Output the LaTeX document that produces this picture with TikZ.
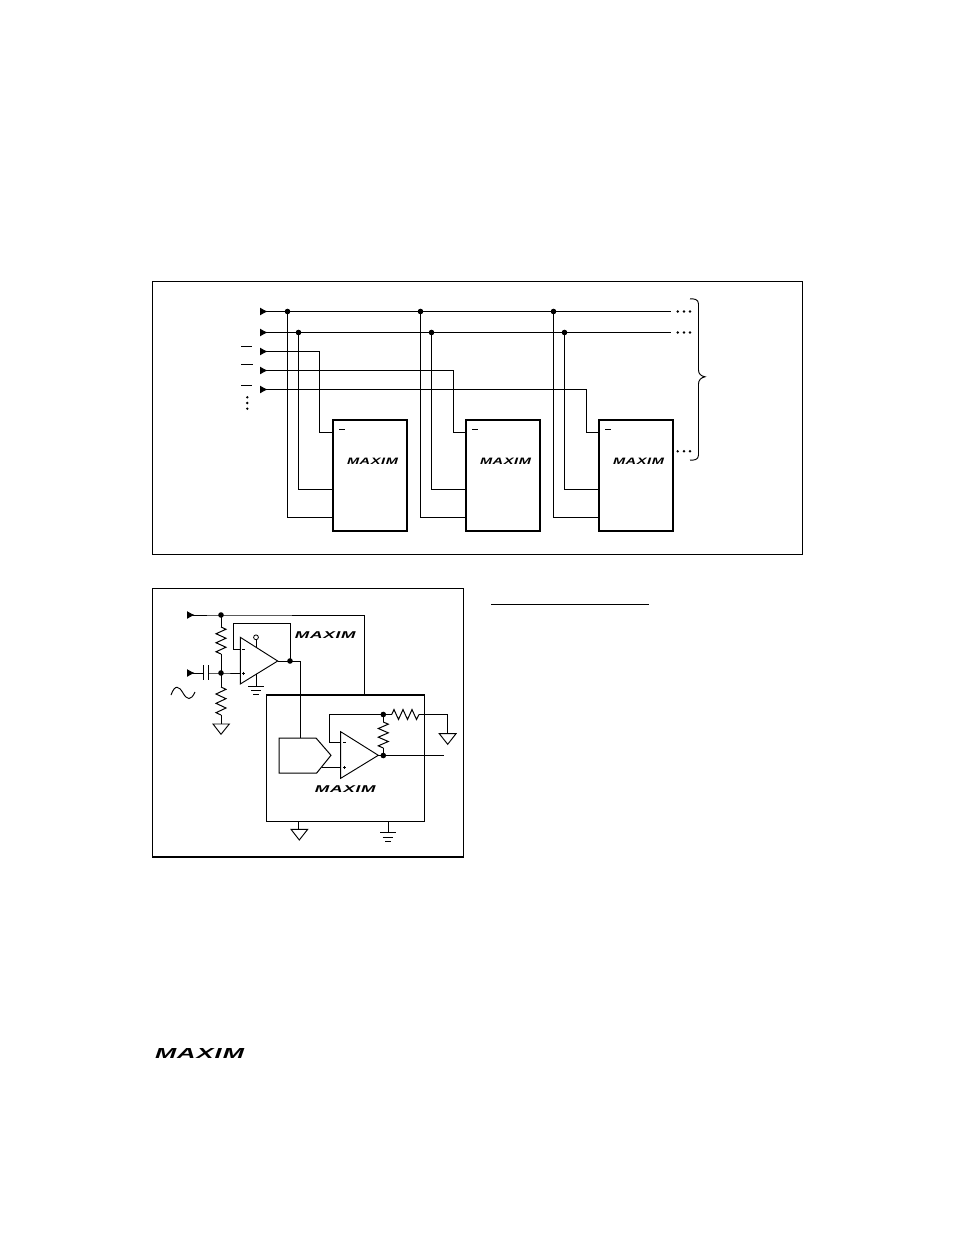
\documentclass[tikz,border=0pt]{standalone}
\usepackage{fontspec}
\setmainfont{Liberation Sans}
\usetikzlibrary{arrows.meta}
\newcommand{\mxlogo}[6]{\node[logotext] (#1) at (#2,#3) {\resizebox{\dimexpr#4pt*3/4\relax}{\dimexpr#5pt*3/4\relax}{\bfseries\itshape\addfontfeature{LetterSpace=#6}MAXIM}};}
\newcommand{\zzv}[4]{\draw[wire,shift={(#1,#2)},yscale=#3/27,xscale=#4] (0,0) -- (5,2.25) -- (-5,6.75) -- (5,11.25) -- (-5,15.75) -- (5,20.25) -- (-5,24.75) -- (0,27);}
\tikzset{
  wire/.style={line width=0.75pt,line join=miter},
  frame/.style={line width=0.75pt},
  chipbox/.style={draw,line width=1.5pt,minimum width=55.5pt,minimum height=83.25pt,inner sep=0pt},
  gate/.style={line width=0.7pt,line join=miter},
  junction/.style={circle,fill=black,inner sep=0pt,minimum size=4.2pt},
  smalldot/.style={circle,fill=black,inner sep=0pt,minimum size=2pt},
  feed/.style={wire,{Latex[reversed,length=5.8pt,width=6pt]}-},
  logotext/.style={inner sep=0pt,outer sep=0pt},
}
\begin{document}
\begin{tikzpicture}[x=0.75pt,y=-0.75pt]
\fill[white] (0,0) rectangle (954,1235);
\useasboundingbox (0,0) rectangle (954,1235);
% frames
\draw[frame] (152.5,281.5) rectangle (802,554);
\draw[frame] (152.5,588.5) rectangle (463,857);
\draw[line width=1.4pt] (152,857) -- (463.5,857);
\draw[line width=0.75pt] (491,604.5) -- (649,604.5);
% chips, top
\foreach \n/\cx in {A/370,B/503,C/636}{\node[chipbox] (chip\n) at (\cx,475.5) {};}
\foreach \n/\dx in {A/0,B/133,C/266}{
  \coordinate (bin1\n) at (287.5+\dx,311.5);
  \coordinate (bin2\n) at (298.5+\dx,332.5);
  \coordinate (cA\n) at (287.5+\dx,517.5);
  \coordinate (cB\n) at (298.5+\dx,489.5);
  \coordinate (eA\n) at (333+\dx,517.5);
  \coordinate (eB\n) at (333+\dx,489.5);
  \coordinate (eC\n) at (333+\dx,432.5);
  \draw[wire] (bin1\n) -- (cA\n) -- (eA\n);
  \draw[wire] (bin2\n) -- (cB\n) -- (eB\n);
  \node[junction] at (bin1\n) {};
  \node[junction] at (bin2\n) {};
  \draw[line width=0.75pt] (339+\dx,429.5) -- (345+\dx,429.5);
}
\coordinate (s1) at (260,311.5); \coordinate (s1e) at (671,311.5);
\coordinate (s2) at (260,332.5); \coordinate (s2e) at (671,332.5);
\coordinate (s3) at (260,351.5); \coordinate (t3) at (319.5,351.5); \coordinate (u3) at (319.5,432.5);
\coordinate (s4) at (260,370.5); \coordinate (t4) at (453.5,370.5); \coordinate (u4) at (453.5,432.5);
\coordinate (s5) at (260,389.5); \coordinate (t5) at (586.5,389.5); \coordinate (u5) at (586.5,432.5);
\draw[feed] (s1) -- (s1e);
\draw[feed] (s2) -- (s2e);
\draw[feed] (s3) -- (t3) -- (u3) -- (eCA);
\draw[feed] (s4) -- (t4) -- (u4) -- (eCB);
\draw[feed] (s5) -- (t5) -- (u5) -- (eCC);
% overbars and dots left
\draw[line width=0.75pt] (241,346.5) -- (252,346.5) (241,364.5) -- (253,364.5) (241,385.5) -- (252,385.5);
\foreach \y in {397.3,403,408.7}{\node[smalldot] at (247.3,\y) {};}
\foreach \y in {311.5,332.5,451.3}{\foreach \x in {677.7,684,690}{\node[smalldot] at (\x,\y) {};}}
% brace
\draw[line width=0.7pt] (690,298.8) .. controls (694,298.8) and (698.5,299) .. (698.5,304)
  -- (698.5,370) .. controls (698.5,374) and (701,376) .. (705,376.8)
  .. controls (701,377.6) and (698.5,380) .. (698.5,384)
  -- (698.5,455) .. controls (698.5,460) and (694,460.2) .. (690,460.2);
% logos
\mxlogo{logoA}{372.5}{461}{51}{6.4}{4}
\mxlogo{logoB}{505.5}{461}{51}{6.4}{4}
\mxlogo{logoC}{638.5}{461}{51}{6.4}{4}
\mxlogo{logoD}{325.3}{635}{60.7}{6.8}{4}
\mxlogo{logoE}{345.3}{789.3}{60.7}{6.8}{4}
\mxlogo{logoF}{199.5}{1053}{89}{10}{4}
% lower circuit: input side
\coordinate (v1) at (187,615); \coordinate (jt) at (221,615); \coordinate (vc) at (364,615); \coordinate (vd) at (364,695);
\draw[feed] (v1) -- (jt) -- (vc) -- (vd);
\node[junction] at (jt) {};
\coordinate (v2) at (187,673); \coordinate (capL) at (203.3,673); \coordinate (capR) at (208.3,673);
\coordinate (jm) at (221,673); \coordinate (inP) at (240.3,673);
\draw[feed] (v2) -- (capL);
\draw[wire] (203.5,665) -- (203.5,680);
\draw[wire] (208.5,665) -- (208.5,680);
\draw[wire] (capR) -- (jm) -- (inP);
\node[junction] at (jm) {};
\coordinate (r1a) at (221,627); \coordinate (r1b) at (221,654);
\draw[wire] (jt) -- (r1a); \zzv{221}{627}{27}{1} \draw[wire] (r1b) -- (jm);
\coordinate (r2a) at (221,687); \coordinate (r2b) at (221,715); \coordinate (g1) at (221,724);
\draw[wire] (jm) -- (r2a); \zzv{221}{687}{28}{1} \draw[wire] (r2b) -- (g1);
\draw[gate] (213,724) -- (229.3,724) -- (221,734.3) -- cycle;
\draw[line width=0.7pt] (171,695) .. controls (175,684) and (179,686) .. (183,693) .. controls (187,700) and (191,701) .. (195,692);
% op amp 1
\draw[gate] (240.3,637.3) -- (277.7,661) -- (240.3,684) -- cycle;
\coordinate (fbA) at (240.3,649.5); \coordinate (fbB) at (233.5,649.5); \coordinate (fbC) at (233.5,623.5); \coordinate (fbD) at (290,623.5); \coordinate (o1) at (290,661);
\coordinate (o1t) at (277.7,661); \coordinate (o1r) at (300,661); \coordinate (dacin) at (300,738);
\draw[wire] (fbA) -- (fbB) -- (fbC) -- (fbD) -- (o1);
\draw[wire] (o1t) -- (o1r) -- (dacin);
\node[junction] at (o1) {};
\draw[line width=0.5pt] (242,649.3) -- (245,649.3) (242,673) -- (245,673) (243.5,671.5) -- (243.5,674.5);
\node[circle,draw,line width=0.6pt,inner sep=0pt,minimum size=3.6pt] (vcc) at (256,637.3) {};
\coordinate (vccb) at (256,647);
\draw[line width=0.6pt] (vcc) -- (vccb);
\coordinate (gb) at (256,674.3); \coordinate (gc) at (256,686);
\draw[line width=0.6pt] (gb) -- (gc);
\draw[line width=0.7pt] (248,686) -- (264,686) (251,690) -- (261,690) (253,694) -- (259,694);
% big box
\draw[line width=0.75pt] (266.5,695) rectangle (424.5,821.5);
\draw[line width=1.5pt] (266,695) -- (425,695);
% DAC
\draw[gate,line width=0.75pt] (279,738) -- (316,738) -- (331,755.3) -- (316.7,773) -- (279,773) -- cycle;
% op amp 2
\draw[gate] (340.7,731.7) -- (378.3,755.3) -- (340.7,778.3) -- cycle;
\coordinate (dacout) at (322,767.5); \coordinate (in2p) at (340.7,767.5);
\draw[wire] (dacout) -- (in2p);
\coordinate (i2a) at (340.7,742.5); \coordinate (i2b) at (329.5,742.5); \coordinate (i2c) at (329.5,714.5); \coordinate (j2a) at (383.3,714.5);
\coordinate (o2t) at (378.3,755.5); \coordinate (j2b) at (383.3,755.5); \coordinate (o2e) at (444.3,755.5);
\draw[wire] (i2a) -- (i2b) -- (i2c) -- (j2a);
\draw[wire] (o2t) -- (o2e);
\node[junction] at (j2a) {};
\node[junction] at (j2b) {};
\draw[line width=0.5pt] (343,742.3) -- (346,742.3) (343,767.3) -- (346,767.3) (344.5,765.8) -- (344.5,768.8);
\coordinate (r3a) at (383.3,722); \coordinate (r3b) at (383.3,748);
\draw[wire] (j2a) -- (r3a); \zzv{383.3}{722}{26}{1} \draw[wire] (r3b) -- (j2b);
\coordinate (r4a) at (391.7,714.5); \coordinate (r4b) at (419,714.5); \coordinate (r4c) at (447.5,714.5); \coordinate (r4d) at (447.5,733.7);
\draw[wire] (j2a) -- (r4a);
\draw[wire,shift={(391.7,714.5)}] (0,0) -- (2.3,-5) -- (6.8,5) -- (11.3,-5) -- (15.8,5) -- (20.3,-5) -- (24.8,5) -- (27.3,0);
\draw[wire] (r4b) -- (r4c) -- (r4d);
\draw[gate] (439.3,733.7) -- (456,733.7) -- (447.7,744.3) -- cycle;
% bottom grounds
\coordinate (bg1) at (298.5,821); \coordinate (bg1b) at (298.5,829.3);
\draw[wire] (bg1) -- (bg1b);
\draw[gate] (291,829.3) -- (307.7,829.3) -- (299.3,840) -- cycle;
\coordinate (bg2) at (388.5,821); \coordinate (bg2b) at (388.5,832.3);
\draw[wire] (bg2) -- (bg2b);
\draw[line width=0.75pt] (380,832.5) -- (396,832.5) (382.7,837) -- (393.3,837) (385.3,841) -- (390.7,841);
\end{tikzpicture}
\end{document}
